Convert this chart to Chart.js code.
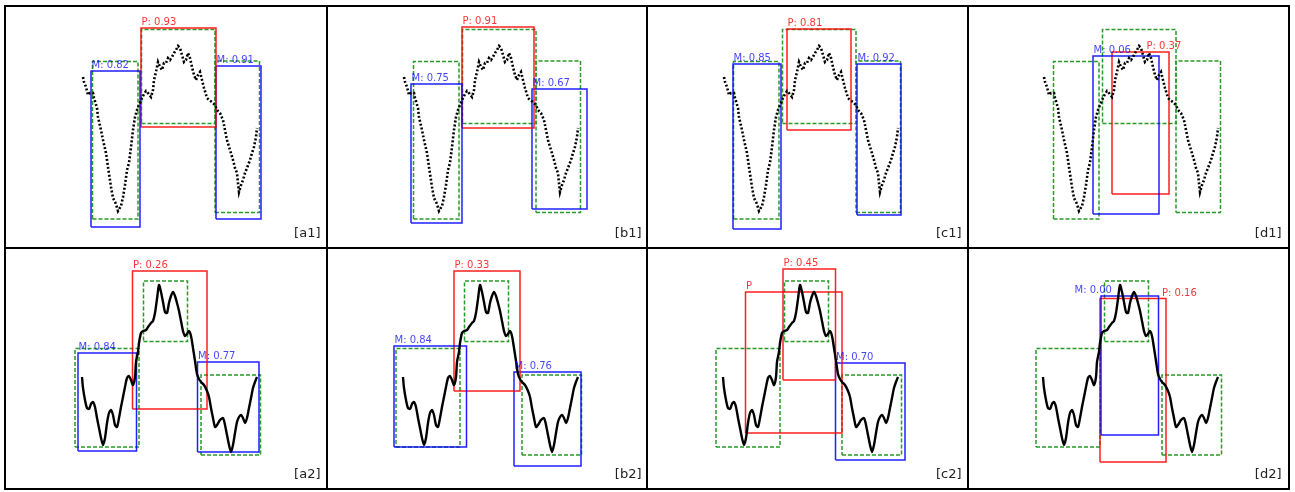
<!DOCTYPE html>
<html>
<head>
<meta charset="utf-8">
<script src="https://cdn.jsdelivr.net/npm/chart.js@4.4.1/dist/chart.umd.min.js"></script>
<style>
  body { margin: 0; background: #fff; width: 1295px; height: 492px; position: relative; overflow: hidden; }
  canvas { position: absolute; }
  .frame { position: absolute; border: 2px solid #000; box-sizing: border-box; pointer-events: none; }
</style>
</head>
<body>
<script>
// Upper series: noisy single-cycle signal (sample index, amplitude)
const topT = [0, 1, 3, 5, 7, 10, 11, 14, 15, 18, 20, 23, 25, 28, 30, 33, 35, 38, 40, 42, 44, 46, 48, 50, 52, 54, 56, 59, 61, 63, 65, 68, 70, 71, 73, 75, 77, 79, 81, 83, 85, 87, 89, 91, 93, 95, 97, 99, 101, 103, 105, 107, 109, 111, 113, 115, 117, 119, 121, 124, 126, 129, 132, 134, 137, 140, 142, 144, 147, 150, 152, 154, 155, 156, 158, 160, 162, 164, 167, 169, 171, 173, 174];
const topV = [171, 166, 161, 153, 155, 155, 150, 140, 131, 118, 108, 95, 81, 61, 50, 44, 37, 42, 51, 63, 78, 85, 101, 118, 131, 138, 143, 150, 154, 157, 155, 151, 158, 168, 176, 186, 181, 178, 185, 185, 190, 188, 191, 195, 198, 202, 200, 193, 186, 188, 195, 190, 181, 173, 168, 173, 176, 168, 160, 150, 148, 146, 143, 138, 135, 128, 118, 108, 98, 88, 80, 75, 65, 56, 63, 68, 75, 80, 88, 95, 101, 111, 120];

// Lower series: smooth wavelet-like signal
const botT = [-1, 0, 2, 4, 6, 8, 10, 12, 14, 16, 18, 20, 22, 24, 26, 28, 30, 32, 34, 36, 38, 40, 42, 44, 46, 48, 50, 52, 53, 55, 56, 58, 60, 63, 65, 68, 70, 72, 74, 76, 78, 80, 82, 84, 86, 88, 90, 92, 94, 96, 98, 100, 102, 104, 106, 108, 110, 112, 114, 116, 118, 121, 124, 126, 128, 130, 132, 134, 137, 140, 142, 144, 146, 148, 150, 152, 154, 156, 158, 160, 162, 164, 166, 168, 170, 172, 174];
const botV = [112, 101, 89, 81, 80, 85, 87, 82, 71, 61, 51, 44, 51, 66, 76, 79, 74, 64, 62, 71, 82, 92, 102, 111, 113, 109, 104, 112, 127, 137, 146, 156, 158, 159, 162, 166, 168, 176, 190, 204, 197, 187, 177, 176, 186, 193, 197, 193, 186, 178, 168, 158, 153, 155, 158, 153, 141, 128, 115, 110, 107, 104, 98, 92, 81, 71, 62, 64, 69, 71, 64, 54, 44, 37, 44, 56, 67, 72, 74, 71, 66, 71, 81, 91, 101, 107, 112];

// Ground-truth segments: [start, end, low, high]
const gtTop = [[9.5, 55, 29, 186.5], [58.5, 132, 124.5, 218.5], [132, 176.5, 35.5, 187]];
const gtBot = [[-8, 56, 42, 140.5], [60.5, 104.5, 147.5, 208], [118, 177.5, 34, 114]];

// Detections per panel: [kind, label, start, end, low, high, labelX (optional)]
const a1Boxes = [['M', 'M: 0.82', 8, 57, 21, 177], ['P', 'P: 0.93', 58, 133, 121, 220], ['M', 'M: 0.91', 133, 178, 29, 182]];
const b1Boxes = [['M', 'M: 0.75', 7, 58, 25, 164], ['P', 'P: 0.91', 58, 130, 120, 221], ['M', 'M: 0.67', 128, 183, 39, 159]];
const c1Boxes = [['M', 'M: 0.85', 9, 57, 19, 184], ['P', 'P: 0.81', 63, 127, 118, 219], ['M', 'M: 0.92', 133, 177, 33, 184]];
const d1Boxes = [['M', 'M: 0.06', 49, 115, 34, 192], ['P', 'P: 0.37', 68, 125, 54, 196, 102]];
const a2Boxes = [['M', 'M: 0.84', -5, 53.5, 38, 136], ['P', 'P: 0.26', 49.5, 124, 80, 218], ['M', 'M: 0.77', 114.5, 176, 37, 127]];
const b2Boxes = [['M', 'M: 0.84', -10, 62.5, 42, 143], ['P', 'P: 0.33', 50, 116, 98, 218], ['M', 'M: 0.76', 110, 177, 23, 117]];
const c2Boxes = [['P', 'P', 21.5, 118, 56, 197], ['P', 'P: 0.45', 59, 111.5, 109, 220], ['M', 'M: 0.70', 111.5, 181, 29, 126]];
const d2Boxes = [['M', 'M: 0.00', 57, 114.5, 54, 193, 30], ['P', 'P: 0.16', 56, 122, 27, 190.5, 117.5]];

const tags = ['[a1]', '[b1]', '[c1]', '[d1]', '[a2]', '[b2]', '[c2]', '[d2]'];
const boxSets = [a1Boxes, b1Boxes, c1Boxes, d1Boxes, a2Boxes, b2Boxes, c2Boxes, d2Boxes];

// Figure grid (frame line centres)
const colEdges = [5, 327, 647, 968, 1289];
const rowEdges = [6, 248, 489];
const plotLeft = [5, 326, 646, 966];
const plotWidth = 321;

const COLORS = {
  P: 'rgba(255,0,0,0.88)', M: 'rgba(0,0,255,0.88)',
  Ptext: 'rgba(255,0,0,0.8)', Mtext: 'rgba(0,0,255,0.75)',
  gt: '#279a27'
};

function rect(x0, x1, y0, y1) {
  return [{x: x0, y: y0}, {x: x1, y: y0}, {x: x1, y: y1}, {x: x0, y: y1}, {x: x0, y: y0}];
}

const labelPlugin = {
  id: 'boxLabels',
  afterDatasetsDraw(chart, args, opts) {
    const {ctx, chartArea, scales} = chart;
    ctx.save();
    ctx.font = '10px "DejaVu Sans"';
    ctx.textAlign = 'left';
    ctx.textBaseline = 'alphabetic';
    for (const b of opts.boxes) {
      const lx = b.length > 6 ? b[6] : b[2];
      ctx.fillStyle = b[0] === 'P' ? COLORS.Ptext : COLORS.Mtext;
      ctx.fillText(b[1], scales.x.getPixelForValue(lx) + 0.5, scales.y.getPixelForValue(b[5]) - 3);
    }
    ctx.font = '13px "DejaVu Sans"';
    ctx.fillStyle = '#222';
    ctx.textAlign = 'right';
    ctx.fillText(opts.tag, chartArea.right - 5.5, chartArea.bottom - 11);
    ctx.restore();
  }
};

for (let i = 0; i < 8; i++) {
  const row = Math.floor(i / 4), col = i % 4;
  const top = rowEdges[row], height = rowEdges[row + 1] - rowEdges[row];

  const cv = document.createElement('canvas');
  cv.width = plotWidth; cv.height = height;
  cv.style.left = plotLeft[col] + 'px';
  cv.style.top = top + 'px';
  cv.style.width = plotWidth + 'px';
  cv.style.height = height + 'px';
  document.body.appendChild(cv);

  const T = row === 0 ? topT : botT;
  const V = row === 0 ? topV : botV;
  const gts = row === 0 ? gtTop : gtBot;

  const datasets = [];
  datasets.push({
    data: T.map((t, k) => ({x: t, y: V[k]})),
    showLine: true, borderColor: '#000', borderWidth: row === 0 ? 2.6 : 2.4,
    borderDash: row === 0 ? [2, 2] : [],
    tension: row === 0 ? 0 : 0.25,
    pointRadius: 0, order: 0
  });
  for (const b of boxSets[i]) {
    datasets.push({
      data: rect(b[2], b[3], b[4], b[5]), showLine: true,
      borderColor: COLORS[b[0]], borderWidth: 1.5, pointRadius: 0,
      borderJoinStyle: 'miter', tension: 0, order: 1
    });
  }
  for (const g of gts) {
    datasets.push({
      data: rect(g[0], g[1], g[2], g[3]), showLine: true,
      borderColor: COLORS.gt, borderWidth: 1.5, borderDash: [4, 2], pointRadius: 0,
      borderJoinStyle: 'miter', tension: 0, order: 2
    });
  }

  new Chart(cv, {
    type: 'scatter',
    data: {datasets},
    options: {
      responsive: false, animation: false, devicePixelRatio: 1,
      layout: {padding: 0},
      scales: {
        x: {type: 'linear', min: -78, max: 243, display: false},
        y: {type: 'linear', min: 0, max: height, display: false}
      },
      plugins: {legend: {display: false}, tooltip: {enabled: false},
        boxLabels: {boxes: boxSets[i], tag: tags[i]}}
    },
    plugins: [labelPlugin]
  });

  const fr = document.createElement('div');
  fr.className = 'frame';
  fr.style.left = (colEdges[col] - 1) + 'px';
  fr.style.top = (top - 1) + 'px';
  fr.style.width = (colEdges[col + 1] - colEdges[col] + 2) + 'px';
  fr.style.height = (height + 2) + 'px';
  document.body.appendChild(fr);
}
</script>
</body>
</html>
